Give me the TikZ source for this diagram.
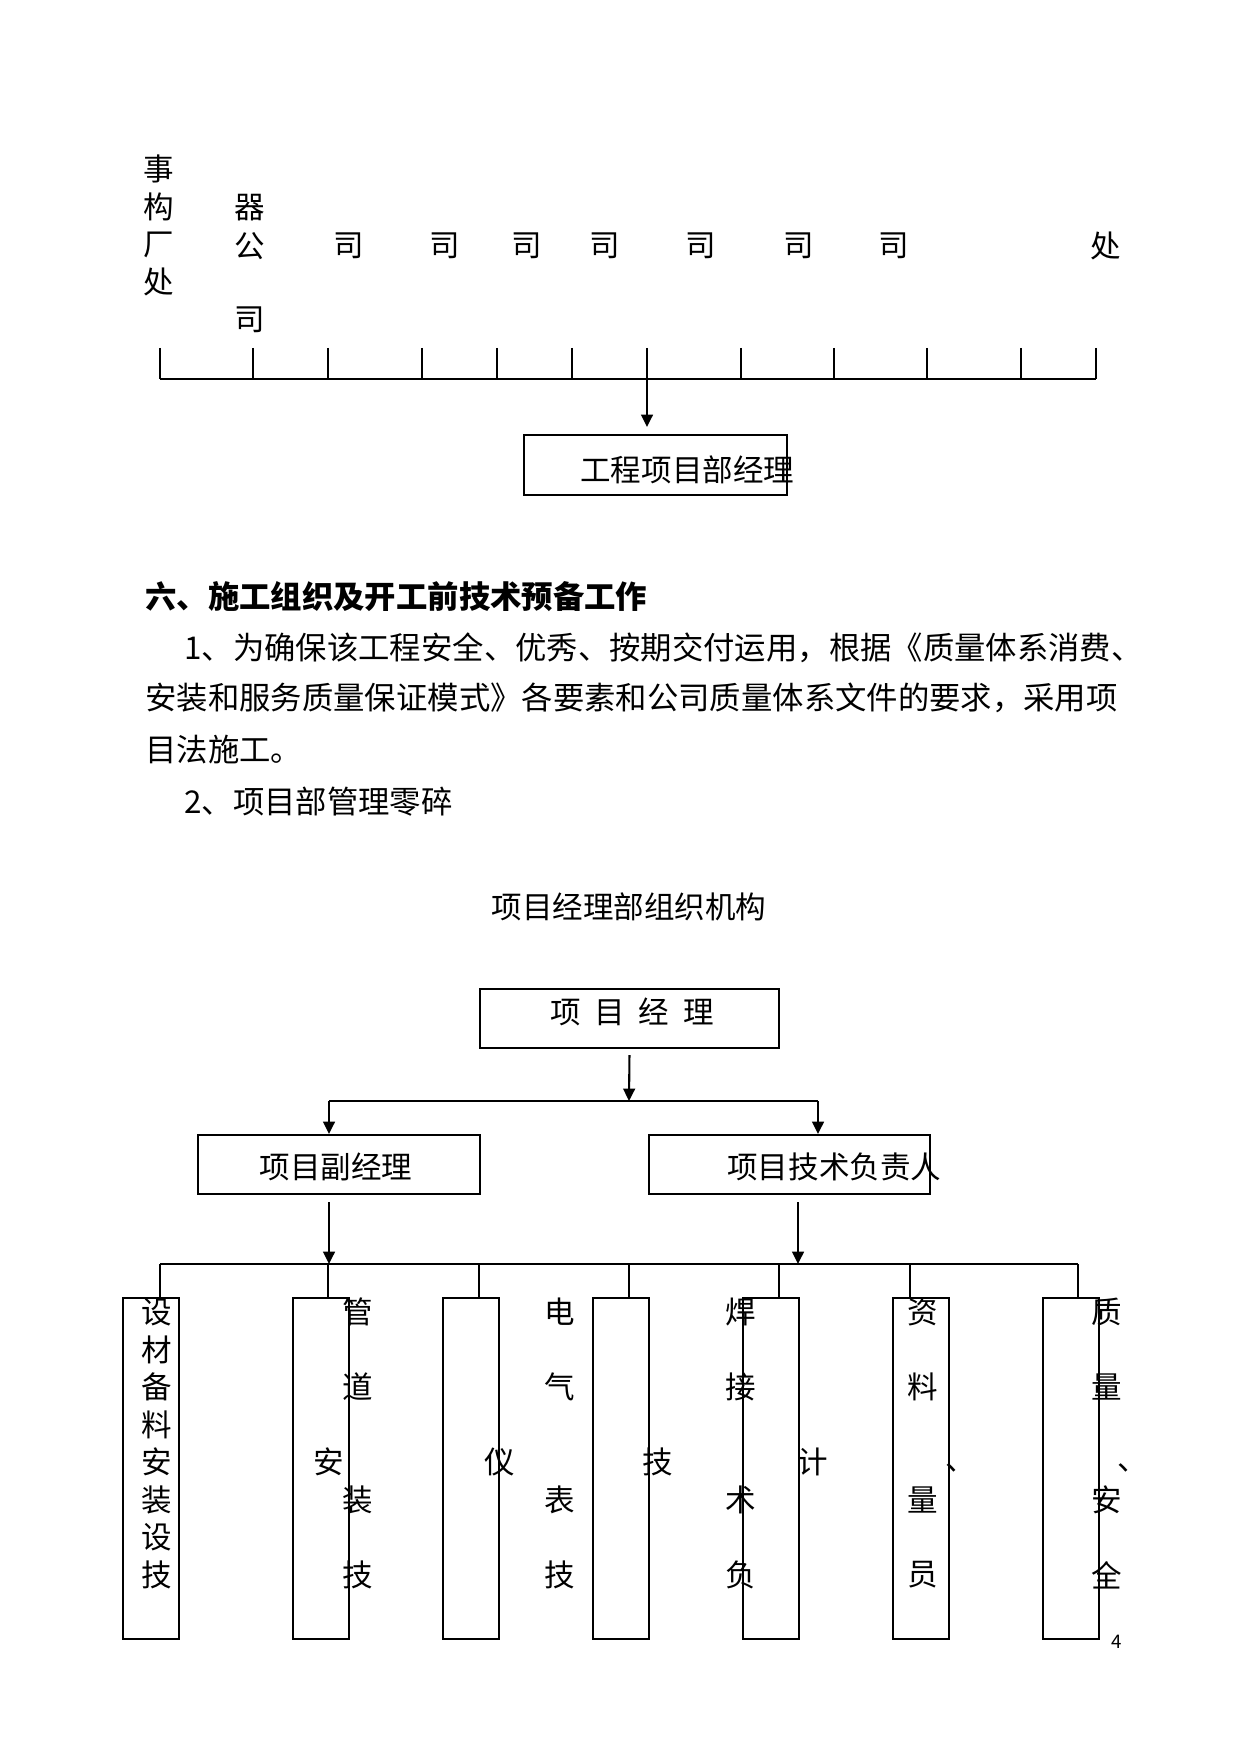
\documentclass[tikz,border=0pt]{standalone}
\usepackage{fontspec}
\setmainfont{Noto Sans CJK SC}
\usetikzlibrary{arrows.meta}
\newdimen\pxu
\pxu=0.16922mm
\tikzset{
  box/.style={draw,line width=1pt,inner sep=0pt,anchor=north west},
  word/.style={inner sep=0pt,font=\fontsize{14.7pt}{18pt}\selectfont},
  para/.style={inner sep=0pt,anchor=west,font=\fontsize{15.1pt}{18pt}\selectfont},
  arr/.style={line width=1pt,-{Triangle[length=2.1mm,width=2mm]}},
  stem/.style={line width=1pt},
  bar/.style={line width=1.4pt},
}
\begin{document}
\begin{tikzpicture}[x=0.16922mm,y=-0.16922mm]
  \useasboundingbox (0,0) rectangle (1241,1754);
  % units above the project department
  \foreach \ch/\yy [count=\i] in {事/169,构/207,厂/245,处/282}
    \node[word] (a\i) at (159,\yy) {\ch};
  \foreach \ch/\yy [count=\i] in {器/208,公/246,司/320}
    \node[word] (b\i) at (250,\yy) {\ch};
  \foreach \xx [count=\i] in {349,445,527,605,701,799,894}
    \node[word] (s\i) at (\xx,246) {司};
  \node[word] (c1) at (1106,246) {处};
  \foreach \xx [count=\i] in {160,253,328,422,497,572,647,741,834,927,1021,1096} {
    \coordinate (t\i) at (\xx,348);
    \coordinate (u\i) at (\xx,379);
    \draw[stem] (t\i) -- (u\i);
  }
  \draw[bar] (u1) -- (u12);
  \node[box,minimum width=263\pxu,minimum height=60\pxu] (gm) at (523,434) {};
  \node[word,anchor=west] (gmt) at (580,470) {工程项目部经理};
  \draw[arr,shorten >=7\pxu] (u7) -- (u7 |- gm.north);

  % section text
  \node[para,font=\fontsize{15.1pt}{18pt}\selectfont\bfseries] (h6) at (145,597) {六、施工组织及开工前技术预备工作};
  \node[para] (p1) at (184,648) {1、为确保该工程安全、优秀、按期交付运用，根据《质量体系消费、};
  \node[para] (p2) at (145,698) {安装和服务质量保证模式》各要素和公司质量体系文件的要求，采用项};
  \node[para] (p3) at (145,750) {目法施工。};
  \node[para] (p4) at (184,802) {2、项目部管理零碎};
  \node[word] (ttl) at (629,907) {项目经理部组织机构};

  % project department chart
  \node[box,minimum width=299\pxu,minimum height=59\pxu] (pm) at (479,988) {};
  \node[word] (pmt) at (632,1012) {项\hspace{.45em}目\hspace{.45em}经\hspace{.45em}理};
  \node[box,minimum width=282\pxu,minimum height=59\pxu] (vpm) at (197,1134) {};
  \node[word] (vpmt) at (336,1167) {项目副经理};
  \node[box,minimum width=281\pxu,minimum height=59\pxu] (tech) at (648,1134) {};
  \node[word,anchor=west] (techt) at (727,1167) {项目技术负责人};
  \coordinate (j0) at (629,1101);
  \coordinate (jl) at (329,1101);
  \coordinate (jr) at (818,1101);
  \draw[arr,shorten <=6\pxu] (pm.south) -- (j0);
  \draw[bar] (jl) -- (jr);
  \draw[arr] (jl) -- (jl |- vpm.north);
  \draw[arr] (jr) -- (jr |- tech.north);

  \coordinate (kl) at (160,1264);
  \coordinate (kr) at (1078,1264);
  \coordinate (ka) at (329,1264);
  \coordinate (kb) at (798,1264);
  \draw[arr,shorten <=7\pxu] (ka |- vpm.south) -- (ka);
  \draw[arr,shorten <=7\pxu] (kb |- tech.south) -- (kb);
  \draw[stem,line width=0.8pt] (kl) -- (kr);
  \foreach \xx/\tx [count=\i] in {122/160,292/328,442/479,592/629,742/779,892/910,1042/1078} {
    \node[box,minimum width=56\pxu,minimum height=341\pxu] (d\i) at (\xx,1297) {};
    \coordinate (e\i) at (\tx,1264);
    \draw[stem] (e\i) -- (e\i |- d\i.north);
  }

  % words in and beside the posts
  \foreach \ch/\yy [count=\i] in {设/1312,材/1350,备/1387,料/1425,安/1462,装/1500,设/1537,技/1575}
    \node[word] (f\i) at (157,\yy) {\ch};
  \foreach \ch/\xx/\yy [count=\i] in {管/358/1312,道/358/1387,安/329/1462,装/358/1500,技/358/1575,
      仪/500/1462,电/560/1312,气/560/1387,表/560/1500,技/560/1575,技/658/1462,
      焊/741/1312,接/741/1387,术/741/1500,负/741/1575,计/813/1462,
      资/923/1312,料/923/1387,量/923/1500,员/923/1575,
      质/1107/1312,量/1107/1387,安/1107/1500,全/1107/1575}
    \node[word] (g\i) at (\xx,\yy) {\ch};
  \node[word] (m1) at (961,1468) {、};
  \node[word] (m2) at (1133,1468) {、};
  \node[inner sep=0pt,font=\fontsize{9pt}{10pt}\selectfont] (pg) at (1117,1642) {4};
\end{tikzpicture}
\end{document}
